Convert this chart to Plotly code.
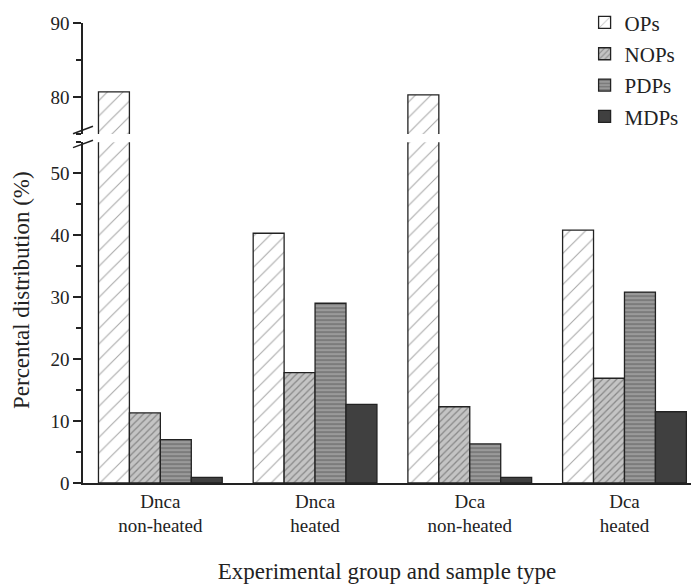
import plotly.graph_objects as go

categories = ["Dnca<br>non-heated", "Dnca<br>heated", "Dca<br>non-heated", "Dca<br>heated"]
series_names = ["OPs", "NOPs", "PDPs", "MDPs"]
ops = [80.7, 40.3, 80.3, 40.8]
nops = [11.3, 17.8, 12.3, 16.9]
pdps = [7.0, 29.0, 6.3, 30.8]
mdps = [0.9, 12.7, 0.9, 11.5]
lower_ticks = [0, 10, 20, 30, 40, 50]
upper_ticks = [80, 90]

FONT = "Liberation Serif"
values = [ops, nops, pdps, mdps]
patterns = [
    dict(shape="/", bgcolor="white", fgcolor="#555555", size=11, solidity=0.1),
    dict(shape="/", bgcolor="#c4c4c4", fgcolor="#4a4a4a", size=5, solidity=0.25),
    dict(shape="-", bgcolor="#9a9a9a", fgcolor="#505050", size=4, solidity=0.4),
    dict(shape="", bgcolor="#404040", fgcolor="#404040"),
]
colors = ["white", "#c4c4c4", "#9a9a9a", "#404040"]

fig = go.Figure()
for axis_pair, show in (("lower", True), ("upper", False)):
    for name, vals, pat, col in zip(series_names, values, patterns, colors):
        fig.add_trace(go.Bar(
            x=categories, y=vals, name=name, showlegend=show,
            legendgroup=name,
            marker=dict(color=col, pattern=pat,
                        line=dict(color="#222222", width=1.3)),
            xaxis="x" if axis_pair == "lower" else "x2",
            yaxis="y" if axis_pair == "lower" else "y2",
        ))

tickfont = dict(family=FONT, size=19, color="#222222")
fig.update_layout(
    width=691, height=588,
    margin=dict(l=83, r=0, t=23, b=105),
    paper_bgcolor="white", plot_bgcolor="white",
    barmode="group", bargap=0.2, bargroupgap=0,
    font=dict(family=FONT, color="#222222"),
    xaxis=dict(domain=[0, 1], anchor="y", range=[-0.5, 3.43],
               showline=True, linecolor="#222222", linewidth=1.5,
               ticks="", tickfont=tickfont, showgrid=False,
               title=dict(text="Experimental group and sample type",
                          font=dict(family=FONT, size=23), standoff=28)),
    xaxis2=dict(domain=[0, 1], anchor="y2", matches="x", visible=False),
    yaxis=dict(domain=[0, 0.741], range=[0, 55], tickvals=lower_ticks,
               showline=True, linecolor="#222222", linewidth=1.5,
               ticks="outside", ticklen=8, tickwidth=1.5, tickcolor="#222222",
               minor=dict(dtick=5, ticks="outside", ticklen=5, tickwidth=1.5,
                          tickcolor="#222222"),
               tickfont=tickfont, showgrid=False, zeroline=False),
    yaxis2=dict(domain=[0.7587, 1], range=[75, 90], tickvals=upper_ticks,
                showline=True, linecolor="#222222", linewidth=1.5,
                ticks="outside", ticklen=8, tickwidth=1.5, tickcolor="#222222",
                minor=dict(dtick=5, ticks="outside", ticklen=5, tickwidth=1.5,
                           tickcolor="#222222"),
                tickfont=tickfont, showgrid=False, zeroline=False),
    legend=dict(x=0.825, y=1.045, xanchor="left", yanchor="top",
                font=dict(family=FONT, size=21), bgcolor="rgba(0,0,0,0)",
                tracegroupgap=1, itemwidth=30),
)

fig.add_annotation(text="Percental distribution (%)", textangle=-90,
                   xref="paper", yref="paper", x=-0.1, y=0.42,
                   xanchor="center", yanchor="middle", showarrow=False,
                   font=dict(family=FONT, size=23, color="#222222"))

# axis break marks
for yy in (0.7674, 0.737):
    fig.add_shape(type="line", xref="paper", yref="paper",
                  x0=-0.0164, x1=0.0164, y0=yy - 0.008, y1=yy + 0.008,
                  line=dict(color="#222222", width=1.5))

fig.write_html("out.html")
